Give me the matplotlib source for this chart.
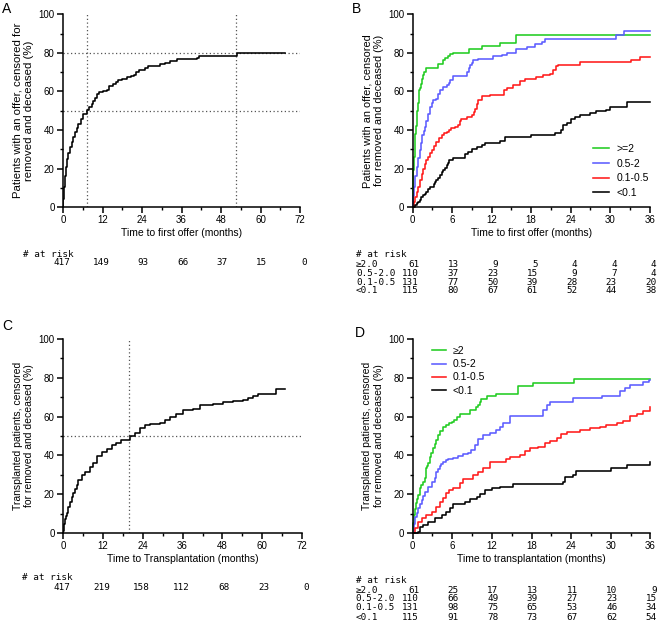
import matplotlib
matplotlib.use("Agg")
import matplotlib.pyplot as plt
from matplotlib.ticker import MultipleLocator

plt.rcParams["font.family"] = ["Liberation Sans", "DejaVu Sans"]

# -----------------------------
# data (months, % with event)
# -----------------------------
# A: time to first offer, all patients
a_time = [0, 0.05, 0.1, 0.25, 0.5, 0.76, 1.1, 1.6, 2.1, 2.6, 3.1, 3.6, 4.2, 4.7, 5.4, 6.2,
          7.2, 8.0, 8.7, 9.2, 9.7, 10.3, 11.0, 12.2, 13.3, 14.0, 15.3, 16.0, 16.8,
          17.8, 19.3, 20.5, 21.4, 22.3, 23.2, 24.9, 25.9, 29.5, 31.0, 32.5, 34.5,
          38.6, 40.6, 41.4, 52.7, 67.4]
a_pct = [0, 2, 4, 10.5, 16, 21, 25, 28, 31, 34, 36.5, 39, 41, 43, 45.5, 48.5,
         50.6, 52, 53.7, 55, 56.8, 58.5, 59.8, 60.3, 60.6, 62.7, 63.7, 64.8, 65.8,
         66.3, 67.5, 68, 68.7, 70, 71.3, 72.4, 73.4, 74.1, 75, 75.8, 76.7,
         77, 77.4, 78.4, 80, 80]
a_vlines = [7.2, 52.5]
a_hlines = [50, 80]

# B: time to first offer by group
bg_time = [0, 0.05, 0.1, 0.2, 0.3, 0.4, 0.5, 0.6, 0.7, 0.8, 0.9, 1.0, 1.1, 1.3, 1.5, 1.6, 1.8,
           2.1, 3.9, 4.6, 4.9, 5.3, 5.7, 6.1, 8.6, 10.6, 13.3, 15.7, 36]
bg_pct = [0, 10, 19, 26, 32, 38, 42, 46, 50, 54, 57, 60.5, 62, 64, 66.7, 68.5, 70,
          72, 74, 76.5, 77.5, 78.4, 79.5, 80.1, 81.9, 83.6, 85.3, 89.3, 89.3]

bb_time = [0, 0.1, 0.2, 0.4, 0.6, 0.8, 1.1, 1.3, 1.5, 1.7, 1.9, 2.1, 2.4, 2.7, 2.9, 3.1, 3.6,
           3.9, 4.1, 4.65, 5.2, 5.5, 5.7, 6.1, 8.2, 8.5, 8.7, 9.0, 9.2, 10.0, 12.2, 13.5,
           14.3, 15.7, 17.3, 18.6, 19.6, 20.1, 30.8, 32.1, 36]
bb_pct = [0, 6, 10.5, 16, 21, 25.5, 29.5, 33.5, 37.3, 39.5, 41.6, 44.5, 48.5, 52, 54, 55.8, 56.3,
          58.5, 60.6, 62.3, 63.2, 64.5, 65.8, 68, 70.1, 72, 73.6, 75, 76.2, 77, 78.2, 79.1,
          80, 82.2, 83.1, 84.8, 85.7, 87, 89.5, 91.4, 91.4]

br_time = [0, 0.2, 0.35, 0.6, 0.86, 1.1, 1.4, 1.65, 1.9, 2.1, 2.4, 2.65, 2.9, 3.2, 3.6, 4.0,
           4.4, 4.8, 5.2, 5.5, 5.9, 6.4, 6.9, 7.2, 7.4, 8.2, 9.0, 9.3, 9.5, 9.8, 10.0, 10.5,
           11.7, 13.8, 14.3, 15.3, 16.3, 17.0, 18.8, 19.8, 20.8, 21.3, 21.7, 22.1, 25.4,
           33.2, 34.5, 36]
br_pct = [0, 2.5, 5.4, 8, 10.5, 14, 17.4, 20, 22.6, 24.5, 26, 28, 29.5, 31.5, 33.9, 35.8,
          37.3, 38.2, 39, 40, 40.8, 41.5, 42.5, 44.5, 45.9, 46.5, 48, 49.5, 51.1, 53.5, 55.4, 57.5,
          58.4, 60.6, 62, 63.2, 65.5, 66.3, 67.5, 68.4, 69.3, 71, 73, 73.9, 75.3,
          76.5, 77.9, 77.9]

bk_time = [0, 0.3, 0.6, 0.85, 1.1, 1.35, 1.6, 1.85, 2.1, 2.4, 2.7, 3.2, 3.4, 3.6, 3.85, 4.1,
           4.4, 4.65, 4.9, 5.2, 5.4, 5.6, 6.1, 7.9, 8.4, 8.95, 9.7, 10.5, 11.0, 13.2, 14.0,
           18.0, 21.6, 22.6, 22.9, 23.4, 24.1, 24.6, 25.4, 26.9, 27.9, 29.4, 29.9, 32.5, 36]
bk_pct = [0, 1, 1.9, 2.8, 3.6, 5, 6.2, 7, 7.9, 9.2, 10.5, 11.9, 13, 14, 15.3, 16.6,
          18, 19.2, 20.5, 21.8, 23, 24.4, 25.7, 27.3, 28.7, 30.4, 31.3, 32.1, 33.3, 34.4, 36.4,
          37.3, 38.2, 40.2, 42.5, 43.7, 45.9, 46.8, 47.7, 48.9, 49.7, 50.3, 52, 54.4, 54.6]

# C: time to transplantation, all patients
c_time = [0, 0.1, 0.35, 0.6, 0.85, 1.1, 1.6, 2.1, 2.6, 3.1, 3.6, 4.1, 4.6, 5.6, 6.6, 8.1, 9.1,
          10.1, 11.6, 13.1, 14.6, 16.1, 17.6, 19.1, 20.1, 21.6, 23.1, 24.6, 26.1, 29.1, 30.6,
          32.1, 34.1, 36.1, 39.1, 41.1, 45.1, 48.1, 51.1, 54.1, 55.6, 57.1, 58.6, 64.1, 66.9]
c_pct = [0, 1.2, 4.5, 7.2, 9, 10.5, 13.3, 16, 18.4, 20.8, 22.8, 25, 27.1, 29.7, 31.4, 34, 36,
         39.5, 41.7, 43.4, 45.2, 46.6, 47.8, 48.1, 50, 51.7, 54.1, 55.9, 56.4, 56.9, 58.1,
         59.8, 61.6, 63.3, 64.1, 66.2, 66.7, 67.6, 68.3, 68.8, 69.8, 70.7, 71.6, 74.1, 74.1]
c_vlines = [20]
c_hlines = [50]

# D: time to transplantation by group
dg_time = [0, 0.1, 0.2, 0.35, 0.5, 0.7, 0.86, 1.1, 1.3, 1.5, 1.9, 2.1, 2.25, 2.4, 2.6, 2.85,
           3.1, 3.35, 3.6, 3.85, 4.1, 4.6, 5.1, 5.5, 5.9, 6.3, 6.7, 7.2, 8.7, 9.6, 9.9, 10.2,
           10.4, 11.2, 12.7, 16.0, 18.3, 24.4, 36]
dg_pct = [0, 5, 9.3, 12.5, 15.3, 17.5, 19.6, 23, 25, 26.5, 28.2, 33.4, 34.8, 36, 39.4, 41.5,
          43.7, 46, 48, 50.5, 52.8, 54.6, 55.8, 56.5, 57.1, 58.5, 60, 61.4, 63.5, 64.8, 66.1, 67.7,
          69.2, 70.4, 71.6, 75.6, 77.3, 79.3, 79.3]

db_time = [0, 0.15, 0.35, 0.6, 0.86, 1.1, 1.4, 1.65, 1.9, 2.4, 2.9, 3.4, 3.6, 3.85, 4.1, 4.35,
           4.6, 5.0, 5.4, 6.15, 6.9, 7.7, 8.4, 8.9, 9.4, 9.9, 10.7, 11.7, 12.7, 13.2, 13.7,
           14.7, 19.8, 20.3, 20.8, 24.3, 28.6, 31.4, 32.1, 32.9, 34.9, 35.8, 36]
db_pct = [0, 4.5, 8.4, 10.5, 12.7, 15, 17, 19, 21.3, 23.9, 26.5, 28.2, 31.3, 33, 34.3, 35.6,
          36.8, 37.6, 38.2, 38.6, 39.9, 40.6, 41.1, 42.9, 45.4, 48.4, 50.6, 51.8, 53.2, 54.9, 56.6,
          60.1, 63.5, 66.1, 67.3, 69.5, 70.7, 73, 75, 76.4, 77.8, 79, 79]

dr_time = [0, 0.35, 0.86, 1.4, 2.1, 2.9, 3.6, 4.1, 4.6, 5.1, 5.5, 6.15, 7.2, 7.7, 9.2, 9.9, 10.7,
           11.7, 14.2, 14.7, 16.2, 17.0, 17.7, 19.0, 20.0, 20.8, 21.8, 22.5, 23.3, 24.3, 25.3,
           26.8, 28.3, 29.3, 30.9, 31.9, 32.9, 33.9, 34.9, 35.9, 36]
dr_pct = [0, 2.4, 5.9, 7.9, 9.3, 11, 13.6, 16.2, 17.9, 20.5, 22.2, 23.1, 25.6, 27.9, 29.9, 31.3, 33.4,
          36.8, 38.2, 39.4, 40.3, 42.3, 43.7, 44.6, 46.3, 47.5, 48.9, 51.1, 52, 52.3, 53.2,
          54, 54.9, 55.8, 56.6, 57.8, 60.1, 61.3, 63, 65.2, 65.2]

dk_time = [0, 0.86, 1.1, 1.6, 2.4, 3.4, 4.4, 5.1, 5.6, 6.15, 7.9, 8.7, 9.7, 10.2, 10.9, 12.0, 13.2,
           15.2, 22.8, 23.0, 24.3, 24.8, 30.1, 32.4, 35.9, 36]
dk_pct = [0, 0.7, 3.3, 4.1, 5.9, 7.6, 9.3, 11, 12.7, 15, 16.2, 17.4, 18.8, 20, 22.2, 23.1, 23.9,
          25.1, 26.5, 29.1, 29.9, 32, 33.4, 35.1, 36.5, 36.5]

# numbers at risk
risk_a = [417, 149, 93, 66, 37, 15, 0]
risk_c = [417, 219, 158, 112, 68, 23, 0]
risk_groups = ["\u22652.0", "0.5-2.0", "0.1-0.5", "<0.1"]
risk_b = [[61, 13, 9, 5, 4, 4, 4],
          [110, 37, 23, 15, 9, 7, 4],
          [131, 77, 50, 39, 28, 23, 20],
          [115, 80, 67, 61, 52, 44, 38]]
risk_d = [[61, 25, 17, 13, 11, 10, 9],
          [110, 66, 49, 39, 27, 23, 15],
          [131, 98, 75, 65, 53, 46, 34],
          [115, 91, 78, 73, 67, 62, 54]]

legend_b = [">=2", "0.5-2", "0.1-0.5", "<0.1"]
legend_d = ["\u22652", "0.5-2", "0.1-0.5", "<0.1"]
group_colors = ["#22cc22", "#5c5cff", "#ff1a1a", "black"]

# -----------------------------
# helpers
# -----------------------------
LAB_FS = 7.5
MONO = "DejaVu Sans Mono"
TAB_FS = 6.7
LW = 1.15


def style_axes(ax, xmax, major, minor):
    ax.set_xlim(0, xmax)
    ax.set_ylim(0, 100)
    for s in ["top", "right"]:
        ax.spines[s].set_visible(False)
    for s in ["left", "bottom"]:
        ax.spines[s].set_linewidth(1.1)
    ax.xaxis.set_major_locator(MultipleLocator(major))
    ax.xaxis.set_minor_locator(MultipleLocator(minor))
    ax.yaxis.set_major_locator(MultipleLocator(20))
    ax.yaxis.set_minor_locator(MultipleLocator(10))
    ax.tick_params(which="major", length=4, width=1.1, labelsize=7, pad=2)
    ax.tick_params(which="minor", length=2.5, width=1.0)


def risk_table(ax, ticks, rows, labels, y_head, y_rows, x_lab, dx):
    tr = ax.get_xaxis_transform()
    ax.text(x_lab, y_head, "# at risk", transform=tr, fontsize=TAB_FS, family=MONO,
            ha="left", va="center", clip_on=False)
    for r, row in enumerate(rows):
        if labels is not None:
            ax.text(x_lab, y_rows[r], labels[r], transform=tr, fontsize=TAB_FS, family=MONO,
                    ha="left", va="center", clip_on=False)
        for t, n in zip(ticks, row):
            ax.text(t + dx, y_rows[r], str(n), transform=tr, fontsize=TAB_FS, family=MONO,
                    ha="right", va="center", clip_on=False)


fig = plt.figure(figsize=(6.57, 6.22), dpi=100)

axA = fig.add_axes([0.0959, 0.667, 0.361, 0.310])
axB = fig.add_axes([0.628, 0.667, 0.361, 0.310])
axC = fig.add_axes([0.0959, 0.143, 0.364, 0.312])
axD = fig.add_axes([0.628, 0.143, 0.362, 0.312])

# ---- A ----
style_axes(axA, 72, 12, 6)
for v in a_vlines:
    axA.axvline(v, color="#555555", ls=(0, (1, 2)), lw=0.9)
for h in a_hlines:
    axA.axhline(h, color="#555555", ls=(0, (1, 2)), lw=0.9)
axA.step(a_time, a_pct, where="post", color="black", lw=LW)
axA.set_xlabel("Time to first offer (months)", fontsize=LAB_FS, labelpad=2)
axA.set_ylabel("Patients with an offer, censored for\nremoved and deceased (%)", fontsize=8.2, labelpad=3)
risk_table(axA, range(0, 73, 12), [risk_a], None, -0.244, [-0.285], -12.2, 2.1)

# ---- B ----
style_axes(axB, 36, 6, 3)
b_series = [(bg_time, bg_pct), (bb_time, bb_pct), (br_time, br_pct), (bk_time, bk_pct)]
for (t, p), c, lab in zip(b_series, group_colors, legend_b):
    axB.step(t, p, where="post", color=c, lw=LW, label=lab, clip_on=False)
axB.legend(loc="lower left", bbox_to_anchor=(0.74, 0.02), frameon=False, fontsize=7.5,
           handlelength=1.5, handletextpad=0.7, labelspacing=0.45, borderpad=0)
axB.set_xlabel("Time to first offer (months)", fontsize=LAB_FS, labelpad=2)
axB.set_ylabel("Patients with an offer, censored\nfor removed and deceased (%)", fontsize=7.9, labelpad=3)
risk_table(axB, range(0, 37, 6), risk_b, risk_groups, -0.244,
           [-0.30, -0.345, -0.389, -0.433], -8.6, 1.0)

# ---- C ----
style_axes(axC, 72, 12, 6)
for v in c_vlines:
    axC.axvline(v, color="#555555", ls=(0, (1, 2)), lw=0.9)
for h in c_hlines:
    axC.axhline(h, color="#555555", ls=(0, (1, 2)), lw=0.9)
axC.step(c_time, c_pct, where="post", color="black", lw=LW)
axC.set_xlabel("Time to Transplantation (months)", fontsize=LAB_FS, labelpad=2)
axC.set_ylabel("Transplanted patients, censored\nfor removed and deceased (%)", fontsize=LAB_FS, labelpad=3)
risk_table(axC, range(0, 73, 12), [risk_c], None, -0.23, [-0.282], -12.4, 2.1)

# ---- D ----
style_axes(axD, 36, 6, 3)
d_series = [(dg_time, dg_pct), (db_time, db_pct), (dr_time, dr_pct), (dk_time, dk_pct)]
for (t, p), c, lab in zip(d_series, group_colors, legend_d):
    axD.step(t, p, where="post", color=c, lw=LW, label=lab, clip_on=False)
axD.legend(loc="upper left", bbox_to_anchor=(0.06, 0.99), frameon=False, fontsize=7.5,
           handlelength=1.3, handletextpad=0.7, labelspacing=0.3, borderpad=0)
axD.set_xlabel("Time to transplantation (months)", fontsize=LAB_FS, labelpad=2)
axD.set_ylabel("Transplanted patients, censored\nfor removed and deceased (%)", fontsize=LAB_FS, labelpad=3)
risk_table(axD, range(0, 37, 6), risk_d, risk_groups, -0.242,
           [-0.294, -0.339, -0.385, -0.433], -8.6, 1.0)

# panel letters
fig.text(0.003, 0.997, "A", fontsize=10, va="top", ha="left")
fig.text(0.535, 0.997, "B", fontsize=10, va="top", ha="left")
fig.text(0.004, 0.487, "C", fontsize=10, va="top", ha="left")
fig.text(0.540, 0.476, "D", fontsize=10, va="top", ha="left")

fig.savefig("out.png", dpi=100)
